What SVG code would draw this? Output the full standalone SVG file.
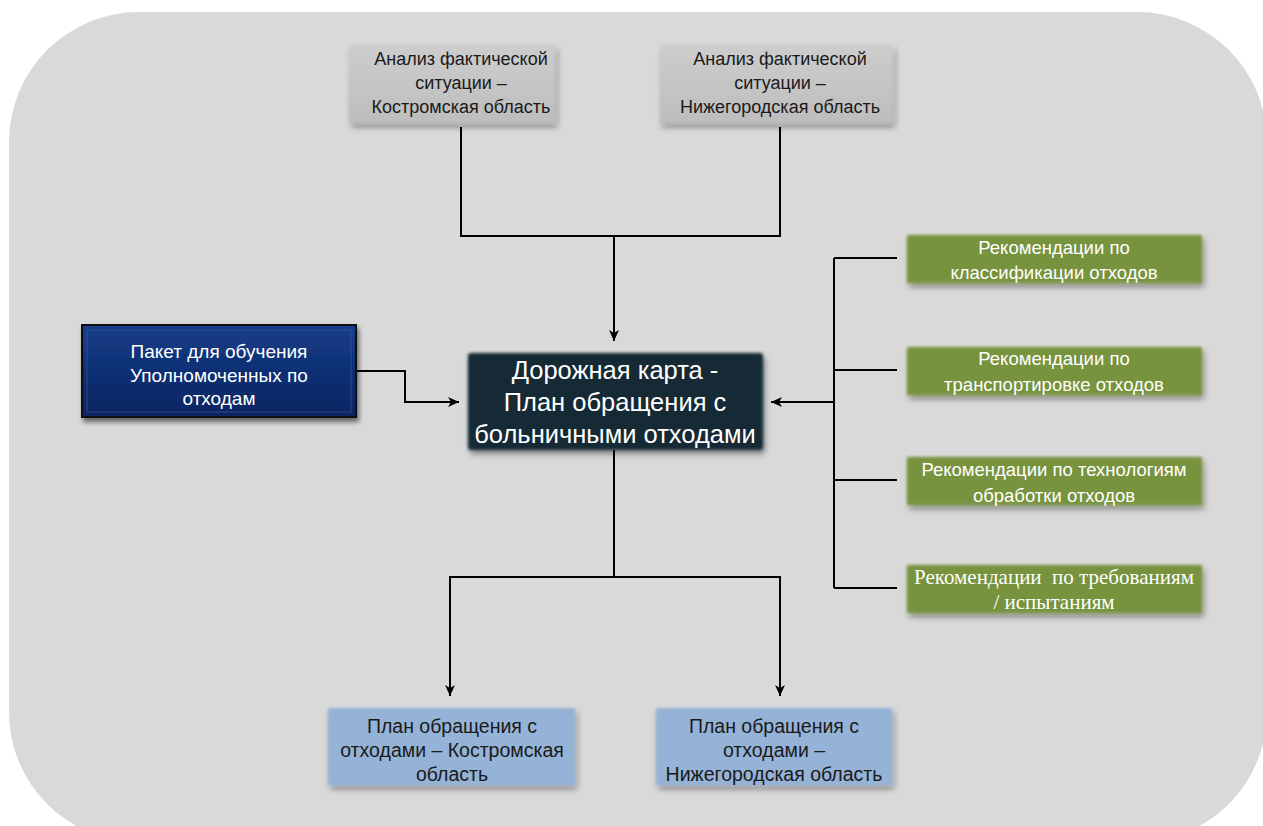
<svg xmlns="http://www.w3.org/2000/svg" width="1263" height="826" viewBox="0 0 1263 826">
<defs>
<filter id="sh" x="-10%" y="-20%" width="120%" height="150%">
<feGaussianBlur in="SourceAlpha" stdDeviation="2.5"/>
<feOffset dx="2" dy="4" result="b"/>
<feComponentTransfer><feFuncA type="linear" slope="0.55"/></feComponentTransfer>
<feMerge><feMergeNode/><feMergeNode in="SourceGraphic"/></feMerge>
</filter>
<filter id="soft" x="-10%" y="-20%" width="120%" height="150%">
<feGaussianBlur in="SourceGraphic" stdDeviation="1.6" result="g"/>
<feGaussianBlur in="SourceAlpha" stdDeviation="3"/>
<feOffset dx="2" dy="4"/>
<feComponentTransfer><feFuncA type="linear" slope="0.4"/></feComponentTransfer>
<feMerge><feMergeNode/><feMergeNode in="g"/></feMerge>
</filter>
<linearGradient id="greyG" x1="0" y1="0" x2="0" y2="1">
<stop offset="0" stop-color="#cdcdcd"/><stop offset="1" stop-color="#bdbdbd"/>
</linearGradient>
<linearGradient id="navyG" x1="0" y1="0" x2="0" y2="1">
<stop offset="0" stop-color="#1a3f8a"/><stop offset="0.5" stop-color="#0c2f73"/><stop offset="1" stop-color="#092662"/>
</linearGradient>
<marker id="ah" markerWidth="12" markerHeight="10" refX="11" refY="5" orient="auto" markerUnits="userSpaceOnUse">
<path d="M0,0 L11,5 L0,10 L3,5 Z" fill="#000"/>
</marker>
<style>
.t{font-family:"Liberation Sans","DejaVu Sans",sans-serif;font-size:18px;text-anchor:middle}
.g{font-size:18.5px}
.b{font-size:19.5px}
.n{font-size:19px}
.dk{fill:#1a1a1a}
.wh{fill:#ffffff}
.big{font-family:"Liberation Sans","DejaVu Sans",sans-serif;font-size:25.5px;text-anchor:middle;fill:#ffffff}
.ser{font-family:"Liberation Serif","DejaVu Serif",serif;font-size:21px;text-anchor:middle;fill:#ffffff}
.ln{fill:none;stroke:#000;stroke-width:2}
</style>
</defs>
<rect x="0" y="0" width="1263" height="826" fill="#ffffff"/>
<rect x="9" y="12" width="1258" height="830" rx="130" ry="130" fill="#d9d9d9"/>

<g id="connectors">
<path class="ln" d="M461,127 V236 H780 V127"/>
<path class="ln" d="M614,236 V341" marker-end="url(#ah)"/>
<path class="ln" d="M356,371 H405 V402 H459" marker-end="url(#ah)"/>
<path class="ln" d="M834,258 V588"/>
<path class="ln" d="M834,258 H897 M834,370 H897 M834,480 H897 M834,588 H897"/>
<path class="ln" d="M834,402 H771" stroke-width="2.5" marker-end="url(#ah)"/>
<path class="ln" d="M614,450 V577 H450 V696" marker-end="url(#ah)"/>
<path class="ln" d="M614,577 H780 V696" marker-end="url(#ah)"/>
</g>

<g id="n-analysis-kostroma">
<rect x="349" y="45" width="206" height="78" fill="url(#greyG)" filter="url(#soft)"/>
<text class="t dk" x="461" y="65">Анализ фактической</text>
<text class="t dk" x="461" y="89">ситуации –</text>
<text class="t dk" x="461" y="113">Костромская область</text>
</g>
<g id="n-analysis-nizhny">
<rect x="660" y="45" width="233" height="78" fill="url(#greyG)" filter="url(#soft)"/>
<text class="t dk" x="780" y="65">Анализ фактической</text>
<text class="t dk" x="780" y="89">ситуации –</text>
<text class="t dk" x="780" y="113">Нижегородская область</text>
</g>
<g id="n-training">
<rect x="82" y="325" width="274" height="92" fill="url(#navyG)" stroke="#0a0a14" stroke-width="2" filter="url(#sh)"/>
<rect x="87" y="330" width="264" height="82" fill="none" stroke="#3a5fa8" stroke-width="1" opacity="0.6"/>
<text class="t n wh" x="219" y="358">Пакет для обучения</text>
<text class="t n wh" x="219" y="382">Уполномоченных по</text>
<text class="t n wh" x="219" y="405">отходам</text>
</g>
<g id="n-roadmap">
<rect x="468" y="353" width="295" height="97" rx="3" fill="#132b35" filter="url(#soft)"/>
<text class="big" x="615" y="379">Дорожная карта -</text>
<text class="big" x="615" y="411">План обращения с</text>
<text class="big" x="615" y="443">больничными отходами</text>
</g>
<g id="n-rec-class">
<rect x="907" y="235" width="295" height="48" fill="#77933c" filter="url(#soft)"/>
<text class="t g wh" x="1054" y="254">Рекомендации по</text>
<text class="t g wh" x="1054" y="279">классификации отходов</text>
</g>
<g id="n-rec-transport">
<rect x="907" y="347" width="295" height="48" fill="#77933c" filter="url(#soft)"/>
<text class="t g wh" x="1054" y="365">Рекомендации по</text>
<text class="t g wh" x="1054" y="391">транспортировке отходов</text>
</g>
<g id="n-rec-tech">
<rect x="907" y="457" width="295" height="48" fill="#77933c" filter="url(#soft)"/>
<text class="t g wh" x="1054" y="476">Рекомендации по технологиям</text>
<text class="t g wh" x="1054" y="502">обработки отходов</text>
</g>
<g id="n-rec-req">
<rect x="907" y="565" width="295" height="48" fill="#77933c" filter="url(#soft)"/>
<text class="ser" x="1054" y="584" xml:space="preserve">Рекомендации  по требованиям</text>
<text class="ser" x="1054" y="609">/ испытаниям</text>
</g>
<g id="n-plan-kostroma">
<rect x="328" y="708" width="247" height="77" fill="#95b3d7" filter="url(#soft)"/>
<text class="t b dk" x="452" y="733">План обращения с</text>
<text class="t b dk" x="452" y="757">отходами – Костромская</text>
<text class="t b dk" x="452" y="781">область</text>
</g>
<g id="n-plan-nizhny">
<rect x="656" y="708" width="236" height="77" fill="#95b3d7" filter="url(#soft)"/>
<text class="t b dk" x="774" y="733">План обращения с</text>
<text class="t b dk" x="774" y="757">отходами –</text>
<text class="t b dk" x="774" y="781">Нижегородская область</text>
</g>
</svg>
